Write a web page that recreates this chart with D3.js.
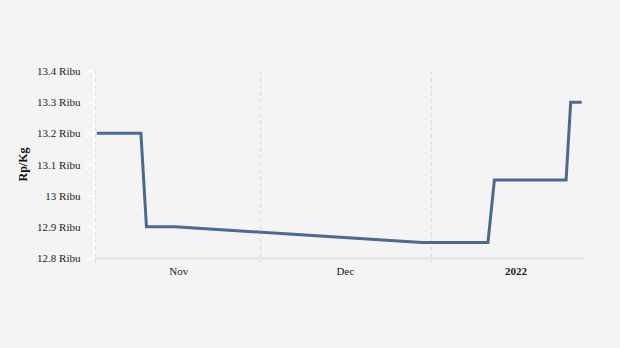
<!DOCTYPE html>
<html>
<head>
<meta charset="utf-8">
<script src="https://cdn.jsdelivr.net/npm/d3@7"></script>
<style>
	body { margin: 0; background: #f4f4f4; }
	svg { display: block; font-family: "Liberation Serif", "Times New Roman", serif; }
</style>
</head>
<body>
<div id="chart"></div>
<script>

// harga per tanggal (Ribu Rp/Kg)
var dates = ["2021-11-01 10:00", "2021-11-09 10:00", "2021-11-10 10:00", "2021-11-15 14:00",
	"2021-12-30 08:00", "2022-01-11 08:00", "2022-01-12 12:00", "2022-01-25 12:00",
	"2022-01-26 08:00", "2022-01-28 08:00"];
var values = [13.2, 13.2, 12.9, 12.9, 12.85, 12.85, 13.05, 13.05, 13.3, 13.3];

var yTicks = [12.8, 12.9, 13, 13.1, 13.2, 13.3, 13.4];
var monthTicks = ["2021-11-01", "2021-12-01", "2022-01-01"];
var monthLabels = ["Nov", "Dec", "2022"];
var yTitle = "Rp/Kg";

var width = 620, height = 348;

var parseTime = d3.timeParse("%Y-%m-%d %H:%M");
var parseDay = d3.timeParse("%Y-%m-%d");

var data = dates.map(function(d, i) { return { date: parseTime(d), value: values[i] }; });
var ticks = monthTicks.map(function(d) { return parseDay(d); });

var x = d3.scaleTime()
	.domain([parseDay("2021-11-01"), parseDay("2022-01-29")])
	.range([94.5, 585.4]);

var y = d3.scaleLinear()
	.domain([12.8, 13.4])
	.range([258, 71]);

var svg = d3.select("#chart").append("svg")
	.attr("width", width)
	.attr("height", height);

svg.append("rect").attr("width", width).attr("height", height).attr("fill", "#f4f4f4");

// vertical dashed grid at month starts
svg.append("g").selectAll("line")
	.data(ticks)
	.enter().append("line")
	.attr("x1", function(d) { return Math.round(x(d)) + 0.5; })
	.attr("x2", function(d) { return Math.round(x(d)) + 0.5; })
	.attr("y1", 71)
	.attr("y2", 263)
	.attr("stroke", "#e0e0e0")
	.attr("stroke-width", 1.5)
	.attr("stroke-dasharray", "4,3");

// x baseline
svg.append("line")
	.attr("x1", 93).attr("x2", 585)
	.attr("y1", 258.5).attr("y2", 258.5)
	.attr("stroke", "#e2e2e2")
	.attr("stroke-width", 2);

// y axis
var yAxis = d3.axisLeft(y)
	.tickValues(yTicks)
	.tickSize(6)
	.tickPadding(7)
	.tickFormat(function(d) { return d3.format("~g")(d) + " Ribu"; });

var gy = svg.append("g")
	.attr("transform", "translate(93.5,0)")
	.call(yAxis);

gy.select(".domain").attr("stroke", "#ffffff").attr("stroke-width", 1.5);
gy.selectAll(".tick line").attr("stroke", "#ffffff").attr("stroke-width", 1.5);
gy.selectAll(".tick text")
	.attr("fill", "#222")
	.attr("font-size", "11px")
	.attr("font-family", "Liberation Serif, serif");

// x labels at mid-month
var xLabels = svg.append("g");
ticks.forEach(function(t, i) {
	var next = d3.timeMonth.offset(t, 1);
	var mid = new Date((t.getTime() + next.getTime()) / 2);
	var midX = Math.min(x(mid), 516);
	xLabels.append("text")
		.attr("x", midX + (i == 0 ? 1.5 : 0))
		.attr("y", 275)
		.attr("text-anchor", "middle")
		.attr("font-size", "11px")
		.attr("font-weight", i == 2 ? "bold" : "normal")
		.attr("fill", "#222")
		.text(monthLabels[i]);
});

// y title
svg.append("text")
	.attr("transform", "translate(27," + y(13.1) + ") rotate(-90)")
	.attr("text-anchor", "middle")
	.attr("font-size", "12px")
	.attr("font-weight", "bold")
	.attr("fill", "#111")
	.text(yTitle);

// line
var line = d3.line()
	.x(function(d) { return x(d.date); })
	.y(function(d) { return y(d.value); });

svg.append("path")
	.datum(data)
	.attr("d", line)
	.attr("fill", "none")
	.attr("stroke", "#4d6a8e")
	.attr("stroke-width", 3)
	.attr("stroke-linejoin", "miter");

</script>
</body>
</html>
